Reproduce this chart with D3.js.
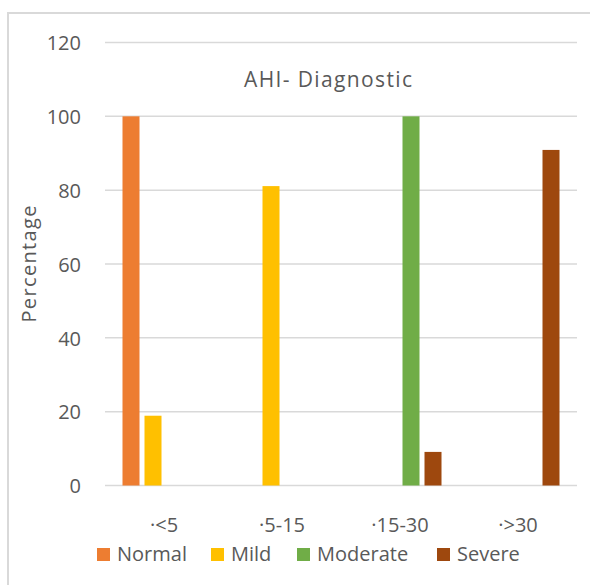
<!DOCTYPE html>
<html>
<head>
<meta charset="utf-8">
<script src="https://cdn.jsdelivr.net/npm/d3@7"></script>
<style>
  html, body { margin: 0; padding: 0; background: #fff; }
  svg { display: block; }
  text { font-family: "Open Sans", "Noto Sans", sans-serif; fill: #595959; }
</style>
</head>
<body>
<svg id="chart" width="590" height="585"></svg>
<script>
// AHI diagnostic groups and share of each severity class (%)
const categories = ["\u00b7<5", "\u00b75-15", "\u00b715-30", "\u00b7>30"];
const seriesNames = ["Normal", "Mild", "Moderate", "Severe"];
const normal   = [100, 0, 0, 0];
const mild     = [18.9, 81.1, 0, 0];
const moderate = [0, 0, 100, 0];
const severe   = [0, 0, 9.1, 90.9];
const yTicks   = [0, 20, 40, 60, 80, 100, 120];
const colors   = ["#ED7D31", "#FFC000", "#70AD47", "#9E480E"];

const seriesValues = [normal, mild, moderate, severe];
const rows = categories.map((c, i) => ({
  category: c,
  values: seriesNames.map((s, j) => ({ series: s, value: seriesValues[j][i] }))
}));

const svg = d3.select("#chart");

// outer chart frame
svg.append("rect")
  .attr("x", 8).attr("y", 13)
  .attr("width", 600).attr("height", 600)
  .attr("fill", "none")
  .attr("stroke", "#D9D9D9")
  .attr("stroke-width", 2);

const plot = { left: 105, right: 577, top: 42.5, bottom: 485.5 };

const x = d3.scaleBand()
  .domain(categories)
  .range([plot.left, plot.right]);

const y = d3.scaleLinear()
  .domain([0, 120])
  .range([plot.bottom, plot.top]);

// bars inside each group: 17px wide with 5px gaps
const barW = 17, barGap = 5;
const groupW = seriesNames.length * barW + (seriesNames.length - 1) * barGap;
const xInner = d3.scaleOrdinal()
  .domain(seriesNames)
  .range(seriesNames.map((s, j) => j * (barW + barGap)));
const color = d3.scaleOrdinal().domain(seriesNames).range(colors);

// gridlines
svg.append("g")
  .selectAll("line")
  .data(yTicks)
  .join("line")
  .attr("x1", plot.left).attr("x2", plot.right)
  .attr("y1", d => y(d)).attr("y2", d => y(d))
  .attr("stroke", "#D9D9D9")
  .attr("stroke-width", 1.5);

// y axis labels
const yAxis = d3.axisLeft(y).tickValues(yTicks).tickSize(0).tickPadding(0);
const yg = svg.append("g")
  .attr("transform", `translate(${plot.left - 24},0)`)
  .call(yAxis);
yg.select(".domain").remove();
yg.selectAll("text")
  .attr("font-size", 20)
  .attr("font-family", "\"Open Sans\", sans-serif")
  .attr("fill", "#595959")
  .attr("dy", "0.36em");

// bars
const groups = svg.append("g")
  .selectAll("g")
  .data(rows)
  .join("g")
  .attr("transform", d => `translate(${x(d.category) + (x.bandwidth() - groupW) / 2},0)`);

groups.selectAll("rect")
  .data(d => d.values.filter(v => v.value > 0))
  .join("rect")
  .attr("x", d => xInner(d.series))
  .attr("width", barW)
  .attr("y", d => y(d.value))
  .attr("height", d => y(0) - y(d.value))
  .attr("fill", d => color(d.series));

// x axis labels
const xAxis = d3.axisBottom(x).tickSize(0).tickPadding(0);
const xg = svg.append("g")
  .attr("transform", `translate(0,${plot.bottom + 46})`)
  .call(xAxis);
xg.select(".domain").remove();
xg.selectAll("text")
  .attr("font-size", 20)
  .attr("font-family", "\"Open Sans\", sans-serif")
  .attr("fill", "#595959")
  .attr("dy", 0);

// title
svg.append("text")
  .attr("x", 328).attr("y", 87)
  .attr("text-anchor", "middle")
  .attr("font-size", 21)
  .attr("textLength", 168)
  .attr("lengthAdjust", "spacing")
  .text("AHI- Diagnostic");

// y axis title
svg.append("text")
  .attr("transform", "translate(36,264) rotate(-90)")
  .attr("text-anchor", "middle")
  .attr("font-size", 20)
  .attr("textLength", 117)
  .attr("lengthAdjust", "spacing")
  .text("Percentage");

// legend
const legendX = [97, 211, 297, 437];
const legend = svg.append("g")
  .selectAll("g")
  .data(seriesNames)
  .join("g")
  .attr("transform", (d, i) => `translate(${legendX[i]},548)`);
legend.append("rect")
  .attr("width", 13).attr("height", 13)
  .attr("fill", d => color(d));
legend.append("text")
  .attr("x", 20).attr("y", 13)
  .attr("font-size", 20)
  .text(d => d);
</script>
</body>
</html>
